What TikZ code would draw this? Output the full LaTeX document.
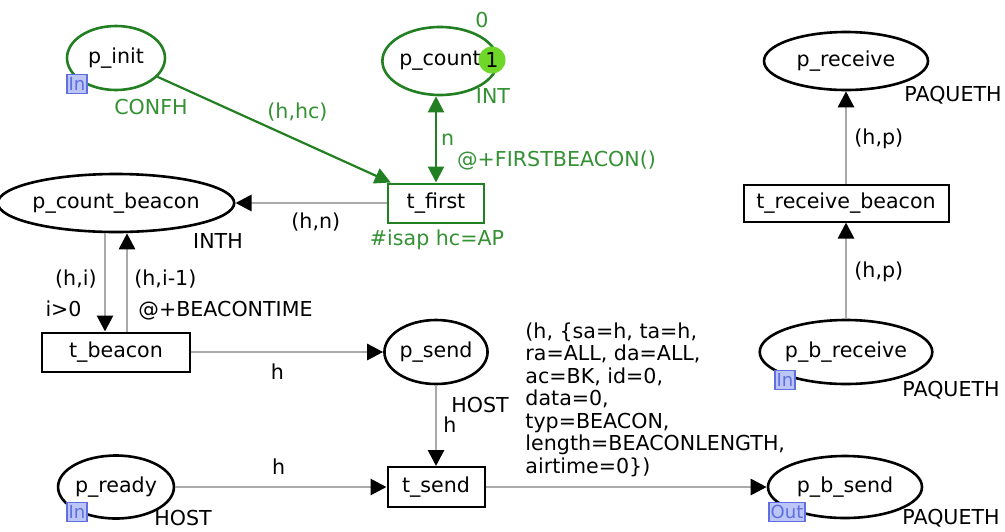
\documentclass[tikz,border=0pt]{standalone}
\usepackage{fontspec}
\setmainfont{DejaVu Sans}
\usetikzlibrary{shapes.geometric,arrows.meta,positioning,calc}

\definecolor{cpngreen}{RGB}{34,128,34}
\definecolor{inscgreen}{RGB}{52,145,52}
\definecolor{arcgray}{RGB}{170,170,170}
\definecolor{tokengreen}{RGB}{110,215,40}
\definecolor{tagfill}{RGB}{188,198,246}
\definecolor{tagline}{RGB}{95,110,225}

\begin{document}
\begin{tikzpicture}[x=0.5pt, y=-0.5pt,
        font=\fontsize{10.3}{12}\selectfont,
        place/.style={ellipse, draw, line width=1.3pt, inner sep=0pt},
        gplace/.style={place, draw=cpngreen},
        trans/.style={draw, line width=1pt, inner sep=0pt},
        gtrans/.style={trans, draw=cpngreen},
        arc/.style={draw=arcgray, line width=1.4pt, -{Triangle[length=8pt, width=8pt, color=black]}},
        garc/.style={draw=cpngreen, line width=1.1pt, -{Triangle[length=8pt, width=8pt]}},
        insc/.style={inner sep=1pt},
        ginsc/.style={insc, text=inscgreen},
        token/.style={circle, fill=tokengreen, inner sep=0pt, minimum size=13.5pt},
        tag/.style={draw=tagline, fill=tagfill, text=tagline, line width=0.8pt, inner sep=0.8pt, minimum height=9.5pt, font=\fontsize{9}{9}\selectfont}
    ]
        \fill[white] (0,0) rectangle (1005,531);
        \useasboundingbox (0,0) rectangle (1005,531);

        % Places
        \node (pinit) [gplace, minimum width=49pt, minimum height=32pt] at (116,58) {p\_init};
        \node (pcount) [gplace, minimum width=52pt, minimum height=34pt] at (440,61) {p\_count};
        \node (pcountbeacon) [place, minimum width=102pt, minimum height=29pt] at (116,203) {p\_count\_beacon};
        \node (psend) [place, minimum width=48pt, minimum height=32pt] at (436,352) {p\_send};
        \node (pready) [place, minimum width=49pt, minimum height=31.5pt] at (116,487) {p\_ready};
        \node (preceive) [place, minimum width=82pt, minimum height=29pt] at (846,61) {p\_receive};
        \node (pbreceive) [place, minimum width=79pt, minimum height=32pt] at (846,352) {p\_b\_receive};
        \node (pbsend) [place, minimum width=77pt, minimum height=31pt] at (845,487) {p\_b\_send};

        % Transitions
        \node (tfirst) [gtrans, minimum width=48pt, minimum height=19.5pt] at (436,203) {t\_first};
        \node (tbeacon) [trans, minimum width=74pt, minimum height=19.5pt] at (116,352) {t\_beacon};
        \node (tsend) [trans, minimum width=48.5pt, minimum height=20pt] at (436,487) {t\_send};
        \node (treceive) [trans, minimum width=102.5pt, minimum height=18.5pt] at (846,203) {t\_receive\_beacon};

        % Port tags and token
        \node (taginit) [tag] at (77,84) {In};
        \node (tagready) [tag] at (77,512) {In};
        \node (tagbreceive) [tag] at (785,380) {In};
        \node (tagbsend) [tag] at (787,512) {Out};
        \node (tok) [token] at (492,60) {1};

        % Colour sets and markings
        \node (confh) [ginsc] at (151,107) {CONFH};
        \node (intcount) [ginsc] at (493,96) {INT};
        \node (initcount) [ginsc] at (482,20) {0};
        \node (inth) [insc] at (218,241) {INTH};
        \node (guardfirst) [ginsc] at (437,240) {\#isap hc=AP};
        \node (hostsend) [insc] at (480,405) {HOST};
        \node (hostready) [insc] at (183,518) {HOST};
        \node (paqreceive) [insc] at (953,95) {PAQUETH};
        \node (paqbreceive) [insc] at (951,390) {PAQUETH};
        \node (paqbsend) [insc] at (951,518) {PAQUETH};

        % Arcs
        \draw [garc] (pinit) -- node[ginsc, pos=0.6, above=8pt] {(h,hc)} (tfirst);
        \draw [garc, {Triangle[length=8pt, width=8pt]}-{Triangle[length=8pt, width=8pt]}] (tfirst.north) -- node[ginsc, pos=0.5, right=1pt] {n} node[ginsc, pos=0.25, anchor=west, xshift=9pt] {@+FIRSTBEACON()} (tfirst.north |- pcount.south);
        \draw [arc] (tfirst.west) -- node[insc, pos=0.47, below=3pt] {(h,n)} (pcountbeacon.east);
        \draw [arc] ([xshift=-5.5pt]pcountbeacon.south) -- node[insc, pos=0.47, left=2.5pt] {(h,i)} node[insc, pos=0.77, left=10pt] {i>0} ([xshift=-5.5pt]tbeacon.north);
        \draw [arc] ([xshift=5.5pt]tbeacon.north) -- node[insc, pos=0.53, right=2pt] {(h,i-1)} node[insc, pos=0.21, right=4pt] {@+BEACONTIME} ([xshift=5.5pt]pcountbeacon.south);
        \draw [arc] (tbeacon.east) -- node[insc, pos=0.45, below=4pt] {h} (psend.west);
        \draw [arc] (psend.south) -- node[insc, pos=0.49, right=2pt] {h} (tsend.north);
        \draw [arc] (pready.east) -- node[insc, pos=0.49, above=4.5pt] {h} (tsend.west);
        \draw [arc] (tsend.east) -- node[insc, pos=0.13, anchor=south west, yshift=3.5pt, align=left, font=\fontsize{10.3}{11.25}\selectfont] {(h, \{sa=h, ta=h,\\ra=ALL, da=ALL,\\ac=BK, id=0,\\data=0,\\typ=BEACON,\\length=BEACONLENGTH,\\airtime=0\})} (pbsend.west);
        \draw [arc] (pbreceive.north) -- node[insc, pos=0.49, right=2.5pt] {(h,p)} (treceive.south);
        \draw [arc] (treceive.north) -- node[insc, pos=0.49, right=2.5pt] {(h,p)} (preceive.south);

    \end{tikzpicture}
\end{document}
